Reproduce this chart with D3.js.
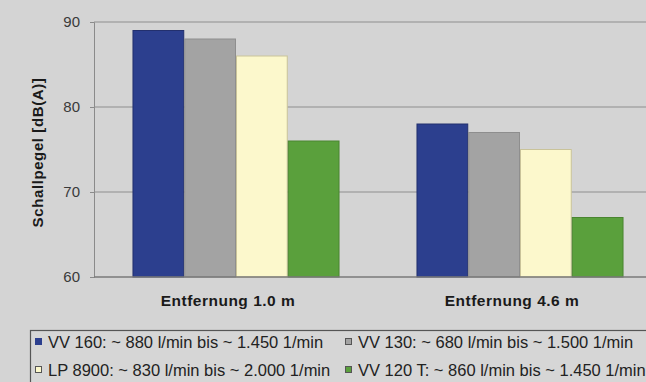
<!DOCTYPE html>
<html>
<head>
<meta charset="utf-8">
<script src="https://cdn.jsdelivr.net/npm/d3@7"></script>
<style>
  html, body { margin: 0; padding: 0; background: #d4d4d4; }
  svg { display: block; }
  text { font-family: "Liberation Sans", Arial, sans-serif; }
</style>
</head>
<body>
<svg id="chart" width="646" height="382"></svg>
<script>
// Categories (x groups)
const categories = ["Entfernung 1.0 m", "Entfernung 4.6 m"];
// Series names (legend entries)
const seriesNames = [
  "VV 160: ~ 880 l/min bis ~ 1.450 1/min",
  "VV 130: ~ 680 l/min bis ~ 1.500 1/min",
  "LP 8900: ~ 830 l/min bis ~ 2.000 1/min",
  "VV 120 T: ~ 860 l/min bis ~ 1.450 1/min"
];
// Sound level per series, one value per category
const vv160 = [89, 78];
const vv130 = [88, 77];
const lp8900 = [86, 75];
const vv120t = [76, 67];
const seriesValues = [vv160, vv130, lp8900, vv120t];
// Y axis ticks
const yTicks = [60, 70, 80, 90];
const yTitle = "Schallpegel [dB(A)]";

const fills = ["#2c3f8e", "#a3a3a3", "#fcf8cc", "#5aa03c"];
const strokes = ["#23306e", "#8e8e8e", "#c9c39a", "#4a8530"];

const svg = d3.select("#chart");

const plot = { left: 94, right: 662, top: 22, bottom: 277 };

const x = d3.scaleBand()
  .domain(categories)
  .range([plot.left, plot.right])
  .paddingInner(0.271)
  .paddingOuter(0.1355);

const xs = d3.scaleBand()
  .domain(d3.range(seriesNames.length))
  .range([0, x.bandwidth()]);

const y = d3.scaleLinear()
  .domain([60, 90])
  .range([plot.bottom, plot.top]);

// Y axis with ticks
const yAxis = d3.axisLeft(y)
  .tickValues(yTicks)
  .tickSize(4)
  .tickPadding(10)
  .tickFormat(d3.format("d"));

const gy = svg.append("g")
  .attr("transform", `translate(${plot.left},0)`)
  .call(yAxis);
gy.select(".domain").attr("stroke", "#8a8a8a");
gy.selectAll(".tick line").attr("stroke", "#8a8a8a");
gy.selectAll(".tick text")
  .attr("fill", "#3a3a3a")
  .style("font-size", "15px");

// Horizontal gridlines
svg.append("g")
  .selectAll("line")
  .data(yTicks.filter(d => d > 60))
  .join("line")
  .attr("x1", plot.left)
  .attr("x2", 646)
  .attr("y1", d => y(d))
  .attr("y2", d => y(d))
  .attr("stroke", "#8e8e8e")
  .attr("stroke-width", 1.2);

// Bars
const groups = svg.append("g")
  .selectAll("g")
  .data(categories)
  .join("g")
  .attr("transform", d => `translate(${x(d)},0)`);

groups.selectAll("rect")
  .data((c, ci) => seriesValues.map((vals, si) => ({ si, v: vals[ci] })))
  .join("rect")
  .attr("x", d => xs(d.si) + 0.5)
  .attr("width", xs.bandwidth() - 1)
  .attr("y", d => y(d.v))
  .attr("height", d => y(60) - y(d.v))
  .attr("fill", d => fills[d.si])
  .attr("stroke", d => strokes[d.si])
  .attr("stroke-width", 1);

// X axis line
svg.append("line")
  .attr("x1", plot.left).attr("x2", 646)
  .attr("y1", plot.bottom).attr("y2", plot.bottom)
  .attr("stroke", "#7a7a7a")
  .attr("stroke-width", 1.5);

// Category labels
svg.append("g")
  .selectAll("text")
  .data(categories)
  .join("text")
  .attr("x", d => x(d) + x.bandwidth() / 2 - 8)
  .attr("y", 306)
  .attr("text-anchor", "middle")
  .attr("fill", "#1a1a1a")
  .style("font-size", "15.5px")
  .style("font-weight", "bold")
  .style("letter-spacing", "0.5px")
  .text(d => d);

// Y axis title
svg.append("text")
  .attr("transform", `translate(43,${(plot.top + plot.bottom) / 2 + 3}) rotate(-90)`)
  .attr("text-anchor", "middle")
  .attr("fill", "#1a1a1a")
  .style("font-size", "15px")
  .style("font-weight", "bold")
  .style("letter-spacing", "0.6px")
  .text(yTitle);

// Legend
const legend = svg.append("g");
legend.append("rect")
  .attr("x", 30.5).attr("y", 330.5)
  .attr("width", 700).attr("height", 100)
  .attr("fill", "#d6d6d6")
  .attr("stroke", "#555")
  .attr("stroke-width", 1.2);

const legendPos = [
  { col: 0, row: 0 }, { col: 1, row: 0 },
  { col: 0, row: 1 }, { col: 1, row: 1 }
];
const colX = [35, 345];
const rowY = [342, 370];

const items = legend.selectAll("g.item")
  .data(seriesNames)
  .join("g")
  .attr("class", "item")
  .attr("transform", (d, i) => `translate(${colX[legendPos[i].col]},${rowY[legendPos[i].row]})`);

items.append("rect")
  .attr("x", 0.5).attr("y", -3.5)
  .attr("width", 6).attr("height", 6)
  .attr("fill", (d, i) => fills[i])
  .attr("stroke", (d, i) => i === 0 ? fills[0] : "#555")
  .attr("stroke-width", 1);

items.append("text")
  .attr("x", 13)
  .attr("y", 5.5)
  .attr("fill", "#222")
  .style("font-size", "16.5px")
  .text(d => d);
</script>
</body>
</html>
